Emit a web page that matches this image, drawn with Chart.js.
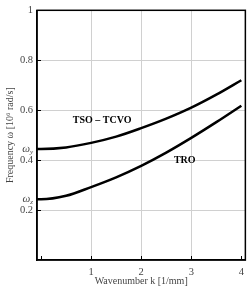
<!DOCTYPE html>
<html>
<head>
<meta charset="utf-8">
<script src="https://cdn.jsdelivr.net/npm/chart.js@4"></script>
<style>
  html, body { margin: 0; padding: 0; background: #fff; }
  #wrap { width: 250px; height: 294px; }
</style>
</head>
<body>
<div id="wrap"><canvas id="myChart" width="250" height="294"></canvas></div>
<script>
// wavenumber k [1/mm] (plot range starts a little left of 0)
const wavenumbers = [-0.08, 0, 0.5, 1, 1.5, 2, 2.5, 3, 3.5, 4];
// TSO - TCVO branch, frequency [10^6 rad/s]
const tsoTcvo = [0.445, 0.445, 0.451, 0.469, 0.494, 0.528, 0.566, 0.610, 0.662, 0.720];
// TRO branch
const tro = [0.243, 0.243, 0.257, 0.292, 0.331, 0.377, 0.430, 0.489, 0.552, 0.618];

const xTicks = [0, 1, 2, 3, 4];
const yTicks = [0, 0.2, 0.4, 0.6, 0.8, 1];
// cutoff labels on the left axis
const omegaLabels = [{sub: 'y', value: 0.444}, {sub: 'z', value: 0.244}];
// curve names, placed in data coordinates
const curveLabels = [
  {text: 'TSO \u2013 TCVO', k: 1.22, w: 0.559},
  {text: 'TRO', k: 2.87, w: 0.398}
];

const serif = "'Liberation Serif', 'DejaVu Serif', serif";
const tickColor = '#444';

const toPoints = ys => wavenumbers.map((k, i) => ({x: k, y: ys[i]}));

const extras = {
  id: 'extras',
  afterDraw(chart) {
    const {ctx, chartArea: a, scales: {x, y}} = chart;
    ctx.save();
    // frame
    ctx.strokeStyle = '#000';
    ctx.lineWidth = 1.5;
    ctx.strokeRect(a.left, a.top, a.right - a.left, a.bottom - a.top);
    // inner ticks
    ctx.lineWidth = 1;
    ctx.beginPath();
    xTicks.forEach(v => {
      const px = Math.round(x.getPixelForValue(v)) + 0.5;
      ctx.moveTo(px, a.bottom);
      ctx.lineTo(px, a.bottom - 4);
    });
    yTicks.slice(1, -1).forEach(v => {
      const py = Math.round(y.getPixelForValue(v)) + 0.5;
      ctx.moveTo(a.left, py);
      ctx.lineTo(a.left + 4, py);
    });
    ctx.stroke();
    // omega labels
    ctx.fillStyle = tickColor;
    ctx.textBaseline = 'middle';
    omegaLabels.forEach(o => {
      const py = y.getPixelForValue(o.value);
      ctx.textAlign = 'right';
      ctx.font = 'italic 7px ' + serif;
      ctx.fillText(o.sub, a.left - 4, py + 3);
      const w = ctx.measureText(o.sub).width;
      ctx.font = 'italic 11px ' + serif;
      ctx.fillText('\u03c9', a.left - 4 - w, py);
    });
    // curve names
    ctx.fillStyle = '#000';
    ctx.textAlign = 'center';
    ctx.font = 'bold 10px ' + serif;
    curveLabels.forEach(l => {
      ctx.fillText(l.text, x.getPixelForValue(l.k), y.getPixelForValue(l.w));
    });
    ctx.restore();
  }
};

new Chart(document.getElementById('myChart'), {
  type: 'line',
  data: {
    datasets: [
      {label: 'TSO - TCVO', data: toPoints(tsoTcvo)},
      {label: 'TRO', data: toPoints(tro)}
    ]
  },
  options: {
    responsive: false,
    animation: false,
    layout: {padding: {top: 6, right: 1, left: 0, bottom: 0}},
    elements: {
      line: {borderColor: '#000', borderWidth: 2.5, cubicInterpolationMode: 'monotone', fill: false},
      point: {radius: 0}
    },
    plugins: {legend: {display: false}, tooltip: {enabled: false}},
    scales: {
      x: {
        type: 'linear',
        min: -0.08,
        max: 4.08,
        afterBuildTicks: s => { s.ticks = xTicks.map(v => ({value: v})); },
        afterFit: s => { s.height = 34; },
        ticks: {
          callback: v => (v === 0 ? '' : v),
          font: {family: serif, size: 10.5},
          color: tickColor,
          padding: 6,
          maxRotation: 0
        },
        grid: {
          drawTicks: false,
          color: c => (c.tick && c.tick.value > 0 && c.tick.value < 4 ? '#d0d0d0' : 'rgba(0,0,0,0)'),
          lineWidth: 1
        },
        border: {color: '#000', width: 1.5},
        title: {
          display: true,
          text: 'Wavenumber k [1/mm]',
          font: {family: serif, size: 10},
          color: tickColor,
          padding: {top: 0, bottom: 7}
        }
      },
      y: {
        min: 0,
        max: 1,
        afterBuildTicks: s => { s.ticks = yTicks.map(v => ({value: v})); },
        afterFit: s => { s.width = 37; },
        ticks: {
          callback: v => (v === 0 ? '' : v),
          font: {family: serif, size: 10.5},
          color: tickColor,
          padding: 4
        },
        grid: {
          drawTicks: false,
          color: c => (c.tick && c.tick.value > 0 && c.tick.value < 1 ? '#d0d0d0' : 'rgba(0,0,0,0)'),
          lineWidth: 1
        },
        border: {color: '#000', width: 1.5},
        title: {
          display: true,
          text: 'Frequency \u03c9 [10\u2076 rad/s]',
          font: {family: serif, size: 10},
          color: tickColor,
          padding: {top: 4, bottom: 0}
        }
      }
    }
  },
  plugins: [extras]
});
</script>
</body>
</html>
